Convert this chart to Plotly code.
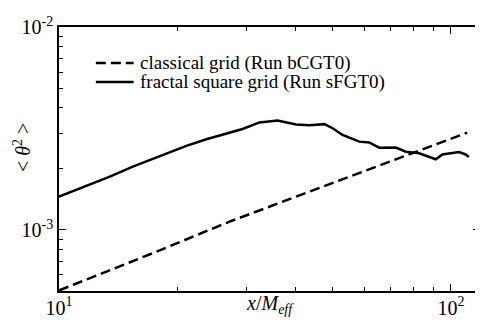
import plotly.graph_objects as go

# ---- data ----
classical_x = [10.0, 17.73, 27.23, 55.02, 110.0]
classical_y = [5.03e-4, 7.81e-4, 1.099e-3, 1.830e-3, 3.015e-3]

fractal_x = [10.0, 11.09, 13.48, 15.43, 18.07, 21.13, 23.76, 26.72, 29.39, 32.47,
             36.1, 40.25, 43.52, 47.53, 49.89, 52.89, 58.34, 61.86, 65.59, 72.32,
             76.68, 82.91, 87.90, 91.45, 95.06, 98.83, 104.8, 109.0, 111.1]
fractal_y = [1.459e-3, 1.574e-3, 1.830e-3, 2.050e-3, 2.297e-3, 2.594e-3, 2.797e-3,
             2.971e-3, 3.145e-3, 3.386e-3, 3.463e-3, 3.310e-3, 3.280e-3, 3.321e-3,
             3.170e-3, 2.938e-3, 2.723e-3, 2.698e-3, 2.544e-3, 2.547e-3, 2.430e-3,
             2.386e-3, 2.289e-3, 2.230e-3, 2.354e-3, 2.386e-3, 2.422e-3, 2.354e-3,
             2.289e-3]

series_names = ["classical grid (Run bCGT0)", "fractal square grid (Run sFGT0)"]
series_dash = ["10px,5px", "solid"]

x_major = [10, 100]
x_major_text = ["10<sup>1</sup>", "10<sup>2</sup>"]
x_minor = [20, 30, 40, 50, 60, 70, 80, 90]
y_major = [1e-3, 1e-2]
y_major_text = ["10<sup>-3</sup>", "10<sup>-2</sup>"]
y_minor = [5e-4, 6e-4, 7e-4, 8e-4, 9e-4, 2e-3, 3e-3, 4e-3, 5e-3, 6e-3, 7e-3, 8e-3, 9e-3]

FONT = "Liberation Serif, Times New Roman, serif"

fig = go.Figure()
fig.add_trace(go.Scatter(x=classical_x, y=classical_y, mode="lines", name=series_names[0],
                         line=dict(color="black", width=2.5, dash=series_dash[0])))
fig.add_trace(go.Scatter(x=fractal_x, y=fractal_y, mode="lines", name=series_names[1],
                         line=dict(color="black", width=2.5)))

axis_common = dict(
    showgrid=False, zeroline=False, showline=True, linecolor="black", linewidth=1.5,
    mirror="allticks", ticks="inside", ticklen=7, tickwidth=1.2, tickcolor="black",
    tickfont=dict(family=FONT, size=20, color="black"),
)

fig.update_xaxes(type="log", range=[1, 2.074], tickvals=x_major, ticktext=x_major_text,
                 ticklabelstandoff=-2,
                 minor=dict(tickvals=x_minor, ticks="inside", ticklen=4, tickwidth=1,
                            tickcolor="black", showgrid=False),
                 **axis_common)
fig.update_yaxes(type="log", range=[-3.30103, -2], tickvals=y_major, ticktext=y_major_text,
                 minor=dict(tickvals=y_minor, ticks="inside", ticklen=4, tickwidth=1,
                            tickcolor="black", showgrid=False),
                 **axis_common)

# axis titles
fig.add_annotation(text="&lt; <i>θ</i><sup>2</sup> &gt;", textangle=-90,
                   xref="paper", yref="paper", x=-0.088, y=0.545,
                   xanchor="center", yanchor="middle", showarrow=False,
                   font=dict(family=FONT, size=20, color="black"))
fig.add_annotation(text="<i>x</i>/<i>M<sub>eff</sub></i>",
                   xref="paper", yref="paper", x=0.5, y=-0.053,
                   xanchor="center", yanchor="middle", showarrow=False,
                   font=dict(family=FONT, size=20, color="black"))

# legend (drawn compactly like the reference)
leg_rows_y = [0.8636, 0.7917]
for name, dash, ly in zip(series_names, series_dash, leg_rows_y):
    fig.add_shape(type="line", xref="paper", yref="paper", x0=0.0875, x1=0.1773,
                  y0=ly, y1=ly, line=dict(color="black", width=2.5, dash=dash))
    fig.add_annotation(text=name, xref="paper", yref="paper", x=0.187, y=ly,
                       xanchor="left", yanchor="middle", showarrow=False,
                       font=dict(family=FONT, size=19, color="black"))

# page body has an 8px default margin; size the figure to fill the rest
fig.update_layout(
    width=475, height=318,
    margin=dict(l=51, r=1, t=19, b=35),
    paper_bgcolor="white", plot_bgcolor="white",
    font=dict(family=FONT, color="black"),
    showlegend=False,
)

fig.write_html("out.html")
